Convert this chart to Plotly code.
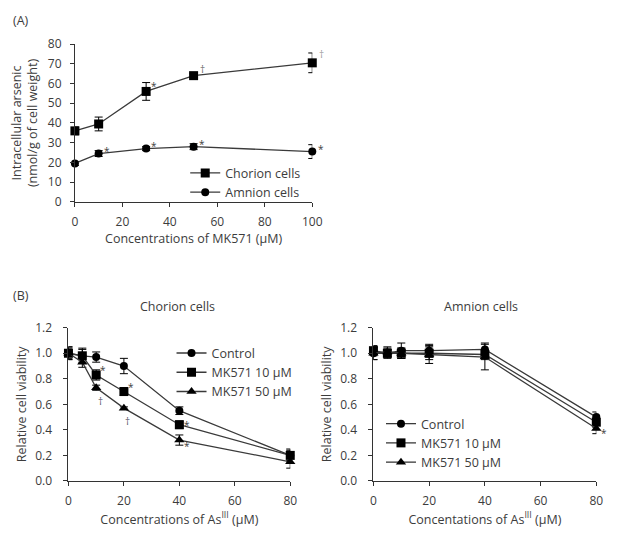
import plotly.graph_objects as go

# Panel A: intracellular arsenic vs MK571
mk_conc = [0, 10, 30, 50, 100]
chorion_as = [36, 39.5, 56, 64, 70.5]
chorion_as_err = [2, 3.5, 4.5, 1, 5]
amnion_as = [19.5, 24.5, 27, 28, 25.5]
amnion_as_err = [1, 1.5, 1, 1.5, 3.5]

# Panel B: cell viability vs As(III)
as_conc = [0, 5, 10, 20, 40, 80]
ch_control = [1.0, 0.98, 0.97, 0.90, 0.55, 0.20]
ch_control_err = [0.05, 0.06, 0.04, 0.06, 0.03, 0.05]
ch_mk10 = [1.0, 0.98, 0.83, 0.70, 0.44, 0.20]
ch_mk10_err = [0.04, 0.05, 0.04, 0.03, 0.03, 0.04]
ch_mk50 = [1.0, 0.93, 0.73, 0.57, 0.32, 0.15]
ch_mk50_err = [0.05, 0.04, 0.02, 0.01, 0.04, 0.05]

am_control = [1.0, 1.0, 1.02, 1.02, 1.03, 0.50]
am_control_err = [0.05, 0.04, 0.06, 0.05, 0.05, 0.04]
am_mk10 = [1.02, 1.0, 1.0, 1.0, 0.99, 0.46]
am_mk10_err = [0.04, 0.03, 0.04, 0.05, 0.04, 0.04]
am_mk50 = [1.0, 1.01, 1.0, 0.99, 0.97, 0.41]
am_mk50_err = [0.05, 0.04, 0.04, 0.07, 0.10, 0.04]

FONT = "Open Sans"
TXT = "#3c3c3c"
LINE = "#3a3a3a"

# page body adds an 8px offset, so the figure is sized to the visible area
W, H = 613, 530


def px_x(p):
    return (p - 8) / W


def px_y(p):
    return 1 - (p - 8) / H


fig = go.Figure()


def add_series(x, y, err, name, symbol, size, xa, ya, legend):
    fig.add_trace(go.Scatter(
        x=x, y=y, name=name, mode="lines+markers",
        line=dict(color=LINE, width=1.3),
        marker=dict(symbol=symbol, size=size, color="black"),
        error_y=dict(type="data", array=err, color="black", thickness=1, width=4),
        xaxis=xa, yaxis=ya, legend=legend, cliponaxis=False,
    ))


add_series(mk_conc, chorion_as, chorion_as_err, "Chorion cells", "square", 9, "x", "y", "legend")
add_series(mk_conc, amnion_as, amnion_as_err, "Amnion cells", "circle", 8, "x", "y", "legend")

add_series(as_conc, ch_control, ch_control_err, "Control", "circle", 8, "x2", "y2", "legend2")
add_series(as_conc, ch_mk10, ch_mk10_err, "MK571 10 μM", "square", 9, "x2", "y2", "legend2")
add_series(as_conc, ch_mk50, ch_mk50_err, "MK571 50 μM", "triangle-up", 9, "x2", "y2", "legend2")

add_series(as_conc, am_control, am_control_err, "Control", "circle", 8, "x3", "y3", "legend3")
add_series(as_conc, am_mk10, am_mk10_err, "MK571 10 μM", "square", 9, "x3", "y3", "legend3")
add_series(as_conc, am_mk50, am_mk50_err, "MK571 50 μM", "triangle-up", 9, "x3", "y3", "legend3")

axis_style = dict(
    showline=True, linecolor="#333333", linewidth=1, ticks="outside",
    ticklen=4, tickcolor="#333333", showgrid=False, zeroline=False,
    tickfont=dict(family=FONT, size=12, color=TXT),
    title_font=dict(family=FONT, size=12.5, color=TXT),
)
legend_style = dict(xanchor="left", yanchor="top", bgcolor="rgba(0,0,0,0)",
                    font=dict(family=FONT, size=12.5, color=TXT), itemwidth=30)

fig.update_layout(
    width=W, height=H,
    margin=dict(l=0, r=0, t=0, b=0),
    paper_bgcolor="white", plot_bgcolor="white",
    font=dict(family=FONT, size=12, color=TXT),
    xaxis=dict(domain=[px_x(73.3), px_x(315.8)], range=[0, 100], dtick=20, ticklabelstandoff=5,
               title=dict(text="Concentrations of MK571 (μM)", standoff=3), anchor="y", **axis_style),
    yaxis=dict(domain=[px_y(199), px_y(36)], range=[0, 80], dtick=10, ticklabelstandoff=6,
               title=dict(text="Intracellular arsenic<br>(nmol/g of cell weight)", standoff=9),
               anchor="x", **axis_style),
    xaxis2=dict(domain=[px_x(66.7), px_x(293.3)], range=[0, 80], dtick=20, ticklabelstandoff=5,
                title=dict(text="Concentrations of As<sup>III</sup> (μM)", standoff=3), anchor="y2", **axis_style),
    yaxis2=dict(domain=[px_y(487.3), px_y(329)], range=[0, 1.2], dtick=0.2, tickformat=".1f",
                ticklabelstandoff=9,
                title=dict(text="Relative cell viability", standoff=5), anchor="x2", **axis_style),
    xaxis3=dict(domain=[px_x(378.3), px_x(606)], range=[0, 80], dtick=20, ticklabelstandoff=5,
                title=dict(text="Concentations of As<sup>III</sup> (μM)", standoff=3), anchor="y3", **axis_style),
    yaxis3=dict(domain=[px_y(487.3), px_y(329)], range=[0, 1.2], dtick=0.2, tickformat=".1f",
                ticklabelstandoff=9,
                title=dict(text="Relative cell viability", standoff=5), anchor="x3", **axis_style),
    legend=dict(x=px_x(186), y=px_y(154), **legend_style),
    legend2=dict(x=px_x(172), y=px_y(340), **legend_style),
    legend3=dict(x=px_x(386), y=px_y(413), **legend_style),
)

# significance marks: (xref, yref, x, y, text, xshift, yshift, color)
marks = [
    ("x", "y", 30, 56, "*", 8, 5, TXT),
    ("x", "y", 50, 64, "†", 9, 7, "#666666"),
    ("x", "y", 100, 70.5, "†", 9, 9, "#999999"),
    ("x", "y", 10, 24.5, "*", 8, 3, TXT),
    ("x", "y", 30, 27, "*", 8, 3, TXT),
    ("x", "y", 50, 28, "*", 8, 3, TXT),
    ("x", "y", 100, 25.5, "*", 9, 3, TXT),
    ("x2", "y2", 10, 0.83, "*", 7, 5, TXT),
    ("x2", "y2", 20, 0.70, "*", 7, 5, TXT),
    ("x2", "y2", 40, 0.44, "*", 8, 0, TXT),
    ("x2", "y2", 40, 0.32, "*", 8, -6, TXT),
    ("x2", "y2", 10, 0.73, "†", 4, -13, "#555566"),
    ("x2", "y2", 20, 0.57, "†", 4, -13, "#555566"),
    ("x3", "y3", 80, 0.41, "*", 8, -4, TXT),
]
for xr, yr, x, y, t, xs, ys, c in marks:
    fig.add_annotation(x=x, y=y, xref=xr, yref=yr, text=t, showarrow=False,
                       xshift=xs, yshift=ys, font=dict(family=FONT, size=10, color=c))

labels = [
    (px_x(8), px_y(12), "(A)", "left"),
    (px_x(8), px_y(296), "(B)", "left"),
    (px_x(178), px_y(307), "Chorion cells", "center"),
    (px_x(488), px_y(307), "Amnion cells", "center"),
]
for x, y, t, anc in labels:
    fig.add_annotation(x=x, y=y, xref="paper", yref="paper", text=t, showarrow=False,
                       xanchor=anc, yanchor="middle", font=dict(family=FONT, size=12.5, color=TXT))

fig.write_html("out.html")
